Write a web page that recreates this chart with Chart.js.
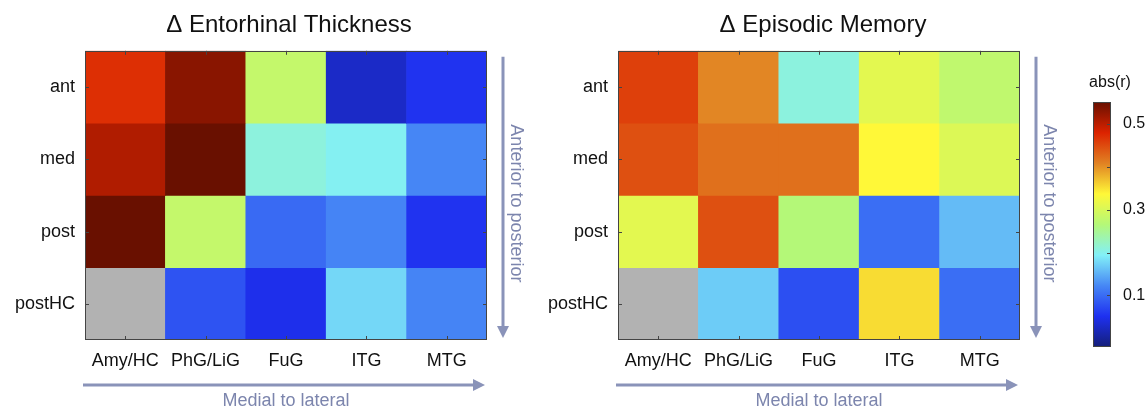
<!DOCTYPE html>
<html>
<head>
<meta charset="utf-8">
<script src="https://cdn.jsdelivr.net/npm/chart.js@4.4.0/dist/chart.umd.min.js"></script>
<style>
  html, body { margin: 0; padding: 0; background: #fff; overflow: hidden; }
  #wrap { position: relative; width: 1147px; height: 410px; }
  canvas { position: absolute; top: 0; }
</style>
</head>
<body>
<div id="wrap">
  <canvas id="thickness" width="578" height="410" style="left:0"></canvas>
  <canvas id="memory" width="566" height="410" style="left:540px"></canvas>
  <canvas id="colorbar" width="100" height="410" style="left:1060px"></canvas>
</div>
<script>
const columns = ['Amy/HC', 'PhG/LiG', 'FuG', 'ITG', 'MTG'];
const rows = ['ant', 'med', 'post', 'postHC'];

// Δ Entorhinal Thickness, abs(r) per row (null = no value, drawn grey)
const thickAnt    = [0.47, 0.53, 0.28, 0.027, 0.054];
const thickMed    = [0.506, 0.55, 0.209, 0.197, 0.122];
const thickPost   = [0.55, 0.28, 0.099, 0.12, 0.054];
const thickPostHC = [null, 0.08, 0.048, 0.177, 0.12];

// Δ Episodic Memory, abs(r) per row
const memAnt    = [0.457, 0.405, 0.208, 0.31, 0.276];
const memMed    = [0.445, 0.421, 0.421, 0.336, 0.303];
const memPost   = [0.31, 0.445, 0.265, 0.102, 0.158];
const memPostHC = [null, 0.169, 0.077, 0.353, 0.102];

// colour scale
const colorMin = -0.02;
const colorMax = 0.55;
const colorbarTicks = [0.1, 0.3, 0.5];
const colorbarMarks = [0.1, 0.2, 0.3, 0.4, 0.5];

// jet-like map, as it looks in the figure
const jetStops = [
  [0.000, [20, 30, 120]],
  [0.125, [30, 48, 240]],
  [0.250, [70, 135, 245]],
  [0.375, [130, 240, 248]],
  [0.500, [180, 248, 120]],
  [0.625, [255, 248, 56]],
  [0.750, [225, 130, 35]],
  [0.875, [220, 35, 0]],
  [1.000, [105, 16, 0]]
];
const MISSING = '#b2b2b2';
const ARROW = '#8a93b9';
const ARROW_TEXT = '#7c85ad';
const FONT = '"Liberation Sans", Arial, Helvetica, sans-serif';

Chart.defaults.font.family = FONT;
Chart.defaults.color = '#111';

function rgb(c) {
  return 'rgb(' + c.map(Math.round).join(',') + ')';
}

function cellColor(v) {
  if (v == null) return MISSING;
  let t = (v - colorMin) / (colorMax - colorMin);
  t = Math.max(0, Math.min(1, t));
  for (let i = 1; i < jetStops.length; i++) {
    const [t1, c1] = jetStops[i];
    if (t <= t1) {
      const [t0, c0] = jetStops[i - 1];
      const f = (t - t0) / (t1 - t0);
      return rgb(c0.map((x, k) => x + (c1[k] - x) * f));
    }
  }
  return rgb(jetStops[jetStops.length - 1][1]);
}

// box round the plot with small inward ticks, like the original axes
const framePlugin = {
  id: 'frame',
  afterDatasetsDraw(chart, args, opts) {
    const { ctx, chartArea: a } = chart;
    const len = 4;
    ctx.save();
    ctx.strokeStyle = '#444';
    ctx.lineWidth = 1;
    ctx.beginPath();
    (opts.xMarks || []).forEach(px => {
      const x = Math.round(px) + 0.5;
      ctx.moveTo(x, a.top); ctx.lineTo(x, a.top + len);
      ctx.moveTo(x, a.bottom); ctx.lineTo(x, a.bottom - len);
    });
    (opts.yMarks || []).forEach(py => {
      const y = Math.round(py) + 0.5;
      if (opts.leftMarks !== false) {
        ctx.moveTo(a.left, y); ctx.lineTo(a.left + len, y);
      }
      ctx.moveTo(a.right, y); ctx.lineTo(a.right - len, y);
    });
    ctx.stroke();
    ctx.strokeRect(Math.round(a.left) + 0.5, Math.round(a.top) + 0.5,
                   Math.round(a.width) - 1, Math.round(a.height) - 1);
    ctx.restore();
  }
};

function arrow(ctx, x0, y0, x1, y1) {
  const ang = Math.atan2(y1 - y0, x1 - x0);
  const head = 12, half = 6;
  const bx = x1 - head * Math.cos(ang), by = y1 - head * Math.sin(ang);
  ctx.beginPath();
  ctx.moveTo(x0, y0);
  ctx.lineTo(bx, by);
  ctx.stroke();
  ctx.beginPath();
  ctx.moveTo(x1, y1);
  ctx.lineTo(bx - half * Math.sin(ang), by + half * Math.cos(ang));
  ctx.lineTo(bx + half * Math.sin(ang), by - half * Math.cos(ang));
  ctx.closePath();
  ctx.fill();
}

// direction arrows plus the rotated "Anterior to posterior" label
const arrowPlugin = {
  id: 'arrows',
  afterDraw(chart) {
    const { ctx, chartArea: a } = chart;
    ctx.save();
    ctx.strokeStyle = ARROW;
    ctx.fillStyle = ARROW;
    ctx.lineWidth = 3;
    arrow(ctx, a.left - 2, a.bottom + 45, a.right - 2, a.bottom + 45);
    arrow(ctx, a.right + 16, a.top + 6, a.right + 16, a.bottom - 2);

    ctx.translate(a.right + 29, (a.top + a.bottom) / 2 + 8);
    ctx.rotate(Math.PI / 2);
    ctx.fillStyle = ARROW_TEXT;
    ctx.font = '18px ' + FONT;
    ctx.textAlign = 'center';
    ctx.textBaseline = 'middle';
    ctx.fillText('Anterior to posterior', 0, 0);
    ctx.restore();
  }
};

function makeHeatmap(id, title, seriesRows, leftW, rightW) {
  const datasets = seriesRows.map((vals, r) => ({
    label: rows[r],
    data: vals.map(() => [r, r + 1]),
    backgroundColor: vals.map(cellColor),
    borderWidth: 0,
    barPercentage: 1,
    categoryPercentage: 1,
    grouped: false,
    xAxisID: 'x',
    yAxisID: 'y'
  }));

  const chart = new Chart(document.getElementById(id), {
    type: 'bar',
    data: { labels: columns, datasets },
    options: {
      responsive: false,
      animation: false,
      layout: { padding: 0 },
      plugins: {
        legend: { display: false },
        tooltip: { enabled: false },
        title: {
          display: true,
          text: title,
          color: '#111',
          font: { size: 24, weight: 'normal' },
          padding: { top: 11, bottom: 11 }
        },
        frame: {}
      },
      scales: {
        x: {
          type: 'category',
          grid: { display: false, drawTicks: false },
          border: { display: false },
          ticks: { font: { size: 18 }, padding: 10, color: '#111', maxRotation: 0 },
          title: {
            display: true,
            text: 'Medial to lateral',
            color: ARROW_TEXT,
            font: { size: 18, lineHeight: 1 },
            padding: { top: 0, bottom: 0 }
          },
          afterFit: s => { s.height = 70; }
        },
        y: {
          type: 'linear',
          min: 0,
          max: rows.length,
          reverse: true,
          grid: { display: false, drawTicks: false },
          border: { display: false },
          afterBuildTicks: s => { s.ticks = rows.map((_, i) => ({ value: i + 0.5 })); },
          ticks: {
            font: { size: 18 },
            padding: 10,
            color: '#111',
            autoSkip: false,
            callback: v => rows[Math.floor(v)]
          },
          afterFit: s => { s.width = leftW; }
        },
        yr: {
          type: 'linear',
          position: 'right',
          grid: { display: false, drawTicks: false },
          border: { display: false },
          ticks: { display: false },
          afterFit: s => { s.width = rightW; }
        }
      }
    },
    plugins: [framePlugin, arrowPlugin]
  });

  // tick marks at the cell centres
  chart.options.plugins.frame.xMarks = columns.map((_, i) => chart.scales.x.getPixelForValue(i));
  chart.options.plugins.frame.yMarks = rows.map((_, i) => chart.scales.y.getPixelForValue(i + 0.5));
  chart.update();
  return chart;
}

makeHeatmap('thickness', 'Δ Entorhinal Thickness',
  [thickAnt, thickMed, thickPost, thickPostHC], 85, 91);
makeHeatmap('memory', 'Δ Episodic Memory',
  [memAnt, memMed, memPost, memPostHC], 78, 86);

// colour bar
const cb = new Chart(document.getElementById('colorbar'), {
  type: 'bar',
  data: {
    labels: [''],
    datasets: [{
      data: [[colorMin, colorMax]],
      xAxisID: 'x',
      yAxisID: 'y',
      backgroundColor: ctx => {
        const { chart } = ctx;
        if (!chart.chartArea) return null;
        const y = chart.scales.y;
        const g = chart.ctx.createLinearGradient(0, y.getPixelForValue(colorMin), 0, y.getPixelForValue(colorMax));
        jetStops.forEach(([t, c]) => g.addColorStop(t, rgb(c)));
        return g;
      },
      borderWidth: 0,
      barPercentage: 1,
      categoryPercentage: 1
    }]
  },
  options: {
    responsive: false,
    animation: false,
    layout: { padding: { bottom: 63 } },
    plugins: {
      legend: { display: false },
      tooltip: { enabled: false },
      title: {
        display: true,
        text: 'abs(r)',
        color: '#111',
        font: { size: 16, weight: 'normal' },
        padding: { top: 73, bottom: 10 }
      },
      frame: { leftMarks: false }
    },
    scales: {
      x: { display: false },
      y: {
        type: 'linear',
        position: 'right',
        min: colorMin,
        max: colorMax,
        grid: { display: false, drawTicks: false },
        border: { display: false },
        afterBuildTicks: s => { s.ticks = colorbarTicks.map(v => ({ value: v })); },
        ticks: {
          font: { size: 16 },
          padding: 12,
          color: '#111',
          callback: v => v.toFixed(1)
        },
        afterFit: s => { s.width = 49; }
      },
      yl: {
        type: 'linear',
        position: 'left',
        grid: { display: false, drawTicks: false },
        border: { display: false },
        ticks: { display: false },
        afterFit: s => { s.width = 33; }
      }
    }
  },
  plugins: [framePlugin]
});
cb.options.plugins.frame.yMarks = colorbarMarks.map(v => cb.scales.y.getPixelForValue(v));
cb.update();
</script>
</body>
</html>
